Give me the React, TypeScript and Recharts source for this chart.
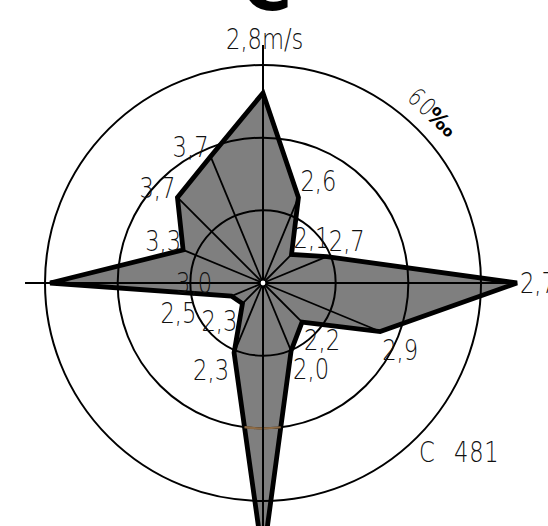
import React from 'react';
import { RadarChart, Radar, PolarGrid, PolarAngleAxis, PolarRadiusAxis } from 'recharts';

// 16 compass sectors, clockwise from north
const DIRECTIONS = ['N', 'NNE', 'NE', 'ENE', 'E', 'ESE', 'SE', 'SSE', 'S', 'SSW', 'SW', 'WSW', 'W', 'WNW', 'NW', 'NNW'];
// wind direction frequency, per mille
const FREQUENCY = [52.3, 25.5, 11.1, 19.0, 69.9, 34.9, 15.2, 20.2, 76.0, 20.8, 8.0, 9.4, 58.6, 23.8, 33.3, 37.7];
// mean wind speed per sector, m/s
const SPEED = ['2,8', '2,6', '2,1', '2,7', '2,7', '2,9', '2,2', '2,0', '2,4', '2,3', '2,3', '2,5', '3,0', '3,3', '3,7', '3,7'];
const RING_TICKS = [0, 20, 40, 60];
const RING_LABEL = '60';
const CALM = 481;
const TITLE = 'C';
const HIGHLIGHT_RING = 40; // ring segment drawn in brown inside the south spike

const AXIS_EXTENT = 65.5; // length of the cross axes, in per-mille units

const data = DIRECTIONS.map((dir, i) => ({ dir, freq: FREQUENCY[i], speed: SPEED[i] }));

const FONT = '"DejaVu Sans", sans-serif';
const SX = 0.78;

function Txt({ x, y, anchor = 'start', size = 29, children, spacing = 0 }: any) {
  return (
    <g transform={`translate(${x},${y}) scale(${SX},1)`}>
      <text
        x={0}
        y={0}
        textAnchor={anchor}
        style={{ fontFamily: FONT, fontWeight: 200, fontSize: size, fill: '#111', letterSpacing: spacing }}
      >
        {children}
      </text>
    </g>
  );
}

// pixel nudges for labels that the original drew away from their vertex
const LABEL_NUDGE: Record<string, [number, number]> = { W: [166, 0], WSW: [-30, 0] };

function ringHit(a: any, b: any, cx: number, cy: number, R: number) {
  // point on segment a->b at distance R from the centre
  const fx = a.x - cx, fy = a.y - cy;
  const dx = b.x - a.x, dy = b.y - a.y;
  const A = dx * dx + dy * dy;
  const B = 2 * (fx * dx + fy * dy);
  const C = fx * fx + fy * fy - R * R;
  const disc = B * B - 4 * A * C;
  if (disc < 0) return null;
  const s = Math.sqrt(disc);
  for (const t of [(-B - s) / (2 * A), (-B + s) / (2 * A)]) {
    if (t >= 0 && t <= 1) return { x: a.x + t * dx, y: a.y + t * dy };
  }
  return null;
}

function RoseShape(props: any) {
  const points: any[] = props.points || [];
  if (!points.length) return null;
  const cx = points[0].cx;
  const cy = points[0].cy;
  const rad = (p: any) => (p.radius != null ? p.radius : Math.hypot(p.x - cx, p.y - cy));
  const ref = points.find((p) => p.value > 0);
  const k = rad(ref) / ref.value;
  const crossR = AXIS_EXTENT * k;
  const ringR = 60 * k;
  const d = points.map((p, i) => `${i ? 'L' : 'M'}${p.x},${p.y}`).join(' ') + 'Z';

  const si = points.findIndex((p) => p.payload.dir === 'S');
  const hr = HIGHLIGHT_RING * k;
  const h1 = ringHit(points[si - 1], points[si], cx, cy, hr);
  const h2 = ringHit(points[si], points[si + 1], cx, cy, hr);

  const labels = points.map((p, i) => {
    const dir = p.payload.dir;
    const s = p.payload.speed;
    const dx = p.x - cx;
    const dy = p.y - cy;
    if (dir === 'N') {
      return (
        <Txt key={i} x={cx - 37} y={cy - crossR + 4}>
          {s}m/s
        </Txt>
      );
    }
    if (p.y + 8 > 526) return null; // beyond the sheet
    let x = p.x;
    let y = p.y;
    let anchor: 'start' | 'end' | 'middle' = 'start';
    if (Math.abs(dx) < 1) {
      anchor = 'middle';
      y = p.y + 27;
    } else if (Math.abs(dy) < 1) {
      anchor = dx > 0 ? 'start' : 'end';
      x = dx > 0 ? p.x + 3 : p.x - 4;
      y = p.y + 10;
    } else if (dx > 0 && dy < 0) {
      x = p.x + 2;
      y = p.y - 6;
    } else if (dx > 0 && dy > 0) {
      x = p.x + 2;
      y = p.y + 28;
    } else if (dx < 0 && dy > 0) {
      anchor = 'end';
      x = p.x - 5;
      y = p.y + 27;
    } else {
      anchor = 'end';
      x = p.x - 2;
      y = p.y + 1;
    }
    const nudge = LABEL_NUDGE[dir] || [0, 0];
    return (
      <Txt key={i} x={x + nudge[0]} y={y + nudge[1]} anchor={anchor}>
        {s}
      </Txt>
    );
  });

  const ang = 43;
  const rl = ringR + 14;
  const lx = cx + rl * Math.sin((ang * Math.PI) / 180);
  const ly = cy - rl * Math.cos((ang * Math.PI) / 180);

  return (
    <g>
      <line x1={cx - crossR} y1={cy} x2={cx + crossR} y2={cy} stroke="#000" strokeWidth={2} />
      <line x1={cx} y1={cy - crossR} x2={cx} y2={cy + crossR * 2} stroke="#000" strokeWidth={2} />
      <path d={d} fill="#000" fillOpacity={0.5} stroke="#000" strokeWidth={4.8} strokeLinejoin="miter" />
      {h1 && h2 && (
        <path
          d={`M${h1.x},${h1.y} A${hr},${hr} 0 0 1 ${h2.x},${h2.y}`}
          fill="none"
          stroke="#8c6a45"
          strokeWidth={2.2}
        />
      )}
      {points.map((p, i) => (
        <line key={i} x1={cx} y1={cy} x2={p.x} y2={p.y} stroke="#000" strokeWidth={1.8} />
      ))}
      <circle cx={cx} cy={cy} r={3} fill="#fff" stroke="#000" strokeWidth={1.2} />
      {labels}
      <g transform={`translate(${lx},${ly}) rotate(${ang})`}>
        <g transform={`scale(${SX},1)`}>
          <text
            x={-8}
            y={0}
            textAnchor="middle"
            style={{ fontFamily: FONT, fontWeight: 200, fontSize: 25, fill: '#111', letterSpacing: 3 }}
          >
            {RING_LABEL}
          </text>
        </g>
        <text
          x={21}
          y={0}
          textAnchor="middle"
          style={{ fontFamily: FONT, fontWeight: 'bold', fontSize: 22, fill: '#000' }}
        >
          ‰
        </text>
      </g>
      <Txt x={cx + 156} y={cy + 179}>C</Txt>
      <Txt x={cx + 191} y={cy + 179} spacing={1}>{CALM}</Txt>
      <text
        x={cx + 4}
        y={10}
        textAnchor="middle"
        style={{ fontFamily: FONT, fontWeight: 'bold', fontSize: 68, fill: '#000' }}
      >
        {TITLE}
      </text>
    </g>
  );
}

export default function App() {
  return (
    <div style={{ position: 'absolute', left: 0, top: 0, width: 548, height: 526, background: '#fff' }}>
      <RadarChart
        width={548}
        height={526}
        data={data}
        cx={263}
        cy={283}
        outerRadius={218}
        startAngle={90}
        endAngle={-270}
        margin={{ top: 0, right: 0, bottom: 0, left: 0 }}
      >
        <PolarGrid gridType="circle" radialLines={false} stroke="#000" strokeWidth={2} strokeOpacity={1} />
        <PolarAngleAxis dataKey="dir" tick={false} axisLine={false} tickLine={false} />
        <PolarRadiusAxis
          domain={[0, 60]}
          ticks={RING_TICKS as any}
          tickCount={4}
          allowDataOverflow
          tick={false}
          axisLine={false}
          tickLine={false}
        />
        <Radar dataKey="freq" isAnimationActive={false} shape={<RoseShape />} />
      </RadarChart>
    </div>
  );
}
